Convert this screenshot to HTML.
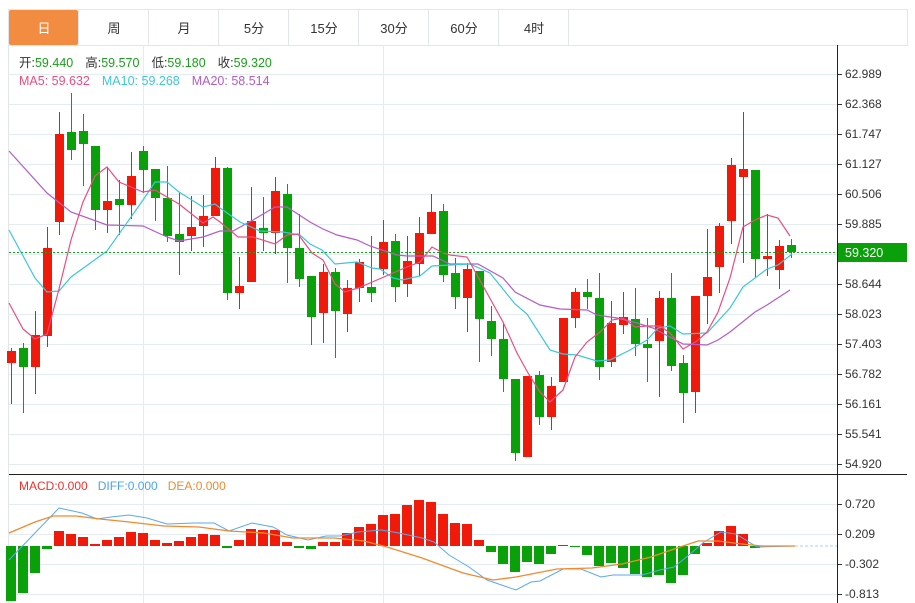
<!DOCTYPE html>
<html><head><meta charset="utf-8"><style>
body{margin:0;background:#fff;font-family:"Liberation Sans","Noto Sans CJK SC",sans-serif;}
svg{display:block}
</style></head><body>
<svg id="s" width="915" height="603" xmlns="http://www.w3.org/2000/svg" font-family="Liberation Sans, Noto Sans CJK SC, sans-serif"></svg>
<script>
var s='';
// tabs
s+='<rect x="8.5" y="9.5" width="899" height="36" fill="#fff" stroke="#e2e6ea"/>';
var tabs=['日','周','月','5分','15分','30分','60分','4时'];
for(var i=0;i<8;i++){var x=9+70*i;
 if(i==0)s+='<rect x="9" y="10" width="69" height="35" rx="2" fill="#f28c40"/>';
 else s+='<line x1="'+(x-0.5)+'" y1="10" x2="'+(x-0.5)+'" y2="45" stroke="#e2e6ea"/>';
 s+='<text x="'+(x+35)+'" y="33" font-size="13" text-anchor="middle" fill="'+(i==0?'#fff':'#333')+'">'+tabs[i]+'</text>';}
s+='<line x1="568.5" y1="10" x2="568.5" y2="45" stroke="#e2e6ea"/>';
s+='<line x1="8.5" y1="45" x2="8.5" y2="603" stroke="#e2e6ea"/>';
// grid main
var lab=['62.989','62.368','61.747','61.127','60.506','59.885','','58.644','58.023','57.403','56.782','56.161','55.541','54.920'];
for(var k=0;k<14;k++){var y=74+30*k;s+='<line x1="9" y1="'+(y+.5)+'" x2="837" y2="'+(y+.5)+'" stroke="#e3ebf3"/>';
 if(lab[k]){s+='<line x1="837" y1="'+(y+.5)+'" x2="842" y2="'+(y+.5)+'" stroke="#333"/><text x="845" y="'+(y+4)+'" font-size="12" fill="#333">'+lab[k]+'</text>';}}
[143,383].forEach(function(x){s+='<line x1="'+(x+.5)+'" y1="45" x2="'+(x+.5)+'" y2="603" stroke="#e3ebf3"/>';});
// macd grid
var ml=[['0.720',504],['0.209',534],['-0.302',564],['-0.813',594]];
ml.forEach(function(m){s+='<line x1="9" y1="'+(m[1]+.5)+'" x2="837" y2="'+(m[1]+.5)+'" stroke="#e3ebf3"/><line x1="837" y1="'+(m[1]+.5)+'" x2="842" y2="'+(m[1]+.5)+'" stroke="#333"/><text x="845" y="'+(m[1]+4)+'" font-size="12" fill="#333">'+m[0]+'</text>';});
s+='<line x1="9" y1="474.5" x2="907" y2="474.5" stroke="#222"/>';
s+='<line x1="837.5" y1="45" x2="837.5" y2="603" stroke="#222"/>';
// candles: [top,bottom,high,low,red?]
var C=[[351,363,348,404,1],[348,367,343,413,0],[335,367,311,394,1],[248,336,227,347,1],[134,222,112,235,1],[132,150,93,160,0],[131,144,114,186,0],[146,210,146,230,0],[201,210,167,233,1],[199,205,180,235,0],[176,205,152,219,1],[151,170,146,193,0],[169,198,169,221,0],[198,236,166,242,0],[234,242,193,275,0],[227,236,196,251,1],[216,226,195,247,1],[168,216,157,216,1],[168,293,167,300,0],[286,293,257,309,1],[221,282,187,282,1],[228,233,197,251,0],[191,233,177,254,1],[194,248,184,283,0],[248,279,214,287,0],[276,317,276,345,0],[272,313,264,343,1],[272,311,268,358,0],[288,314,280,332,1],[262,288,259,302,1],[287,293,236,302,0],[242,269,220,275,1],[241,287,234,302,0],[261,284,236,297,1],[233,264,217,276,1],[212,234,194,234,1],[211,275,204,282,0],[273,297,258,309,0],[269,298,263,332,1],[271,319,271,362,0],[321,339,306,356,0],[339,379,323,392,0],[379,453,379,461,0],[376,457,376,457,1],[375,417,371,425,0],[386,417,377,430,1],[318,382,318,382,1],[292,318,288,328,1],[292,297,279,309,0],[298,367,273,380,0],[323,362,301,367,1],[317,325,292,334,1],[319,344,288,356,0],[344,348,318,382,0],[298,341,291,397,1],[298,366,273,371,0],[363,393,355,423,0],[296,392,296,413,1],[277,296,229,324,1],[226,267,223,293,1],[165,221,158,244,1],[169,177,112,263,1],[170,259,170,278,0],[256,259,214,276,1],[246,270,240,289,1],[245,252,239,258,0]];
for(var i=0;i<C.length;i++){var c=C[i],x=11+12*i,col=c[4]?'#f01a0a':'#0aa00a';
 s+='<line x1="'+(x+.5)+'" y1="'+c[2]+'" x2="'+(x+.5)+'" y2="'+c[3]+'" stroke="'+col+'"/>';
 s+='<rect x="'+(x-4)+'" y="'+c[0]+'" width="9" height="'+Math.max(2,c[1]-c[0])+'" fill="'+col+'"/>';}
function pl(p,col,w){return '<polyline fill="none" stroke="'+col+'" stroke-width="'+(w||1.2)+'" points="'+p+'"/>';}
s+=pl('9,151 47,193 71,212 107,225 143,226 167,237 179,241 203,237 220,231 233,231 253,220 275,207 287,207 310,222 323,229 337,235 357,240 370,246 397,255 407,256 433,256 450,264 478,264 503,278 515,292 540,305 560,309 587,310 597,315 617,318 637,323 653,328 683,344 707,345 718,340 730,332 755,312 767,305 790,290','#b45cc8');
s+=pl('9,230 35,278 47,292 59,291 71,277 107,251 143,200 155,182 167,182 179,192 203,207 215,204 220,208 240,222 260,231 283,232 300,235 310,244 322,250 335,264 357,262 372,268 380,269 393,278 402,280 420,276 432,266 450,265 470,264 490,273 515,304 527,314 550,350 563,354 577,355 597,361 610,360 630,350 647,340 658,328 670,326 683,334 707,333 730,308 743,287 767,269 778,265 792,254','#3cc6dc');
s+=pl('9,303 23,329 35,339 47,334 59,289 71,240 83,202 95,176 107,167 119,182 131,187 143,192 155,190 167,197 179,204 203,223 213,217 220,222 238,237 253,237 275,244 287,235 298,234 312,253 323,260 335,284 345,292 358,288 370,283 393,273 407,267 420,262 432,247 443,253 450,255 467,257 487,293 503,322 517,353 528,373 540,392 550,402 563,390 575,357 587,342 600,332 612,320 623,318 635,327 647,326 660,326 670,333 683,349 697,341 707,332 718,312 730,278 743,227 755,220 767,215 778,218 790,236','#ec4c80');
// price line
s+='<line x1="9" y1="252.5" x2="837" y2="252.5" stroke="#1aa01a" stroke-dasharray="2,2"/>';
s+='<rect x="838" y="243" width="69" height="19" fill="#0aa00a"/><text x="845" y="257" font-size="12.5" fill="#fff">59.320</text>';
// legend
s+='<text x="19" y="67" font-size="12.5"><tspan fill="#333">开:</tspan><tspan fill="#1aa01a">59.440</tspan><tspan fill="#333" dx="12">高:</tspan><tspan fill="#1aa01a">59.570</tspan><tspan fill="#333" dx="12">低:</tspan><tspan fill="#1aa01a">59.180</tspan><tspan fill="#333" dx="12">收:</tspan><tspan fill="#1aa01a">59.320</tspan></text>';
s+='<text x="19" y="85" font-size="12.5"><tspan fill="#ec4c80">MA5: 59.632</tspan><tspan fill="#3cc6dc" dx="12">MA10: 59.268</tspan><tspan fill="#b45cc8" dx="12">MA20: 58.514</tspan></text>';
s+='<text x="19" y="490" font-size="12"><tspan fill="#f0302a">MACD:0.000</tspan><tspan fill="#4aa3ee" dx="10">DIFF:0.000</tspan><tspan fill="#f08a30" dx="10">DEA:0.000</tspan></text>';
// macd bars
var M=[601,593,573,549,531,534,537,544,540,537,532,533,540,543,541,537,534,535,548,540,529,530,530,542,548,549,542,542,533,527,524,515,514,505,500,502,514,523,524,540,552,564,572,562,564,554,545,547,555,566,563,568,574,577,575,583,575,554,543,531,526,534,548,546,546,546];
for(var i=0;i<M.length;i++){var x=11+12*i,v=M[i];if(v==546)continue;
 var red=v<546,y=red?v:546,h=Math.abs(v-546);
 s+='<rect x="'+(x-5)+'" y="'+y+'" width="10" height="'+Math.max(1,h)+'" fill="'+(red?'#f01a0a':'#0aa00a')+'"/>';}
s+=pl('9,560 59,508 82,513 97,519 111,517 129,515 147,518 167,524 194,523 214,523 229,531 252,523 273,527 287,535 308,540 326,536 340,536 358,532 381,530 399,533 422,538 434,542 449,555 469,567 487,580 516,590 531,582 540,581 563,569 581,569 601,577 613,575 642,575 660,570 674,567 689,555 704,542 721,532 736,534 757,547 795,546','#5aa9ee',1);
s+=pl('9,533 35,522 53,516 76,516 100,519 129,522 164,526 199,527 229,531 264,533 293,538 334,538 364,541 387,547 422,558 463,573 493,580 516,577 557,569 592,568 622,564 651,557 680,547 698,541 718,541 742,544 762,546 795,546','#f08a30',1.3);
s+='<line x1="795" y1="546" x2="837" y2="546" stroke="#9fd3f5" stroke-dasharray="3,2"/>';
document.getElementById('s').innerHTML=s;
</script>
</body></html>
